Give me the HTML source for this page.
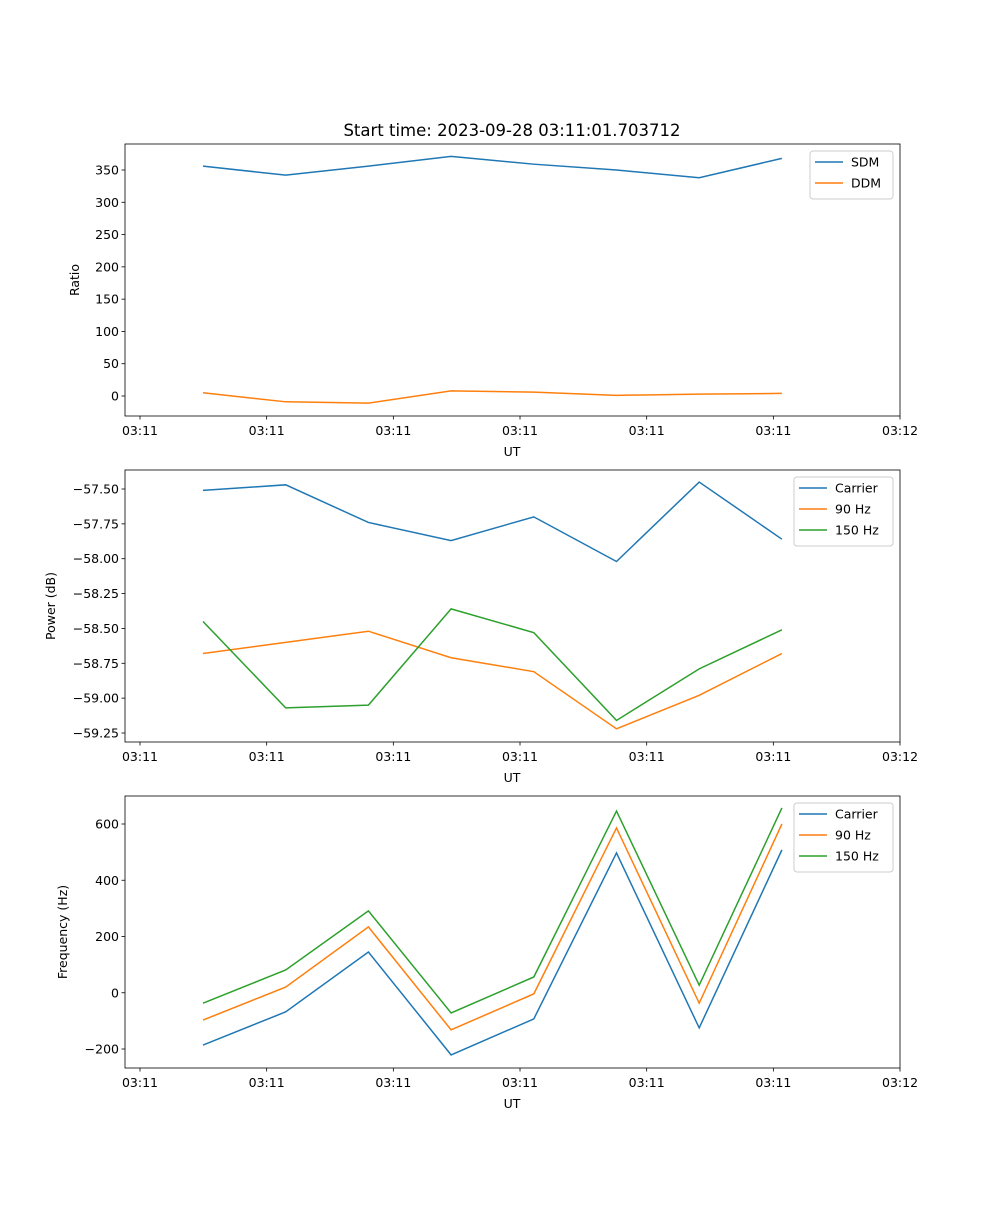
<!DOCTYPE html>
<html><head><meta charset="utf-8"><style>
body{margin:0;background:#fff}
svg text{font-family:"DejaVu Sans","Liberation Sans",sans-serif;fill:#000}
</style></head><body>
<svg id="fig" width="1000" height="1200" xmlns="http://www.w3.org/2000/svg"></svg>
<script>
const xTickLabels=["03:11","03:11","03:11","03:11","03:11","03:11","03:12"];
const sdm=[356,342,356,371,359,350,338,368];
const ddm=[5,-9,-11,8,6,1,3,4];
const pwrCarrier=[-57.51,-57.47,-57.74,-57.87,-57.70,-58.02,-57.45,-57.86];
const pwr90=[-58.68,-58.60,-58.52,-58.71,-58.81,-59.22,-58.98,-58.68];
const pwr150=[-58.45,-59.07,-59.05,-58.36,-58.53,-59.16,-58.79,-58.51];
const frqCarrier=[-186,-68,145,-221,-93,497,-125,508];
const frq90=[-97,20,234,-132,-4,586,-37,600];
const frq150=[-37,81,291,-72,56,646,27,657];
const ratioTicks=[0,50,100,150,200,250,300,350];
const powerTicks=[-57.5,-57.75,-58,-58.25,-58.5,-58.75,-59,-59.25];
const freqTicks=[600,400,200,0,-200];

const NS="http://www.w3.org/2000/svg";
const svg=document.getElementById('fig');
function el(tag,attrs,parent,text){const e=document.createElementNS(NS,tag);for(const k in attrs)e.setAttribute(k,attrs[k]);if(text!==undefined)e.textContent=text;(parent||svg).appendChild(e);return e;}
const L=125,R=900,FS=12.5;
const xs=i=>203+i*82.7;
const xTickPos=i=>140+i*126.67;
const C=['#1f77b4','#ff7f0e','#2ca02c'];

function panel(name,top,bottom,yv0,yp0,yv1,yp1,ticks,fmt,ylabel,ylx,series,labels,legW,legX){
  const g=el('g',{},svg);
  
  
  const ys=v=>yp0+(v-yv0)*(yp1-yp0)/(yv1-yv0);
  series.forEach((s,k)=>{
    const p=el('polyline',{points:s.map((v,i)=>xs(i)+','+ys(v)).join(' '),fill:'none',stroke:C[k],'stroke-width':1.5},g);
    
    
  });
  el('rect',{x:L,y:top,width:R-L,height:bottom-top,fill:'none',stroke:'#000','stroke-width':0.8},g);
  ticks.forEach(t=>{const y=ys(t);
    el('line',{x1:L-3.5,x2:L,y1:y,y2:y,stroke:'#000','stroke-width':0.8},g);
    const tx=el('text',{x:L-6,y:y+4.5,'text-anchor':'end','font-size':FS},g,fmt(t));
    
    
  });
  xTickLabels.forEach((t,i)=>{const x=xTickPos(i);
    el('line',{x1:x,x2:x,y1:bottom,y2:bottom+3.5,stroke:'#000','stroke-width':0.8},g);
    const tx=el('text',{x:x,y:bottom+19,'text-anchor':'middle','font-size':FS},g,t);
    
    
  });
  const xl=el('text',{x:512,y:bottom+40,'text-anchor':'middle','font-size':FS},g,'UT');
  
  
  const yl=el('text',{x:0,y:0,'text-anchor':'middle','font-size':FS,transform:`translate(${ylx},${(top+bottom)/2}) rotate(-90)`},g,ylabel);
  
  
  const lg=el('g',{},g);
  
  
  el('rect',{x:legX,y:top+7,width:legW,height:6+labels.length*21,rx:3,fill:'#fff','fill-opacity':0.8,stroke:'#ccc'},lg);
  labels.forEach((l,k)=>{const y=top+18+k*21;
    el('line',{x1:legX+5,x2:legX+33,y1:y,y2:y,stroke:C[k],'stroke-width':1.5},lg);
    const tx=el('text',{x:legX+41,y:y+4.5,'font-size':FS},lg,l);
    
    
  });
}
const t=el('text',{x:512,y:136,'text-anchor':'middle','font-size':16.5},svg,'Start time: 2023-09-28 03:11:01.703712');


panel('ratio-panel',144,416,0,396,350,170,ratioTicks,v=>String(v),'Ratio',79,[sdm,ddm],['SDM','DDM'],83,810);
panel('power-panel',470,742,-57.5,489,-59.25,733,powerTicks,v=>'\u2212'+Math.abs(v).toFixed(2),'Power (dB)',55,[pwrCarrier,pwr90,pwr150],['Carrier','90 Hz','150 Hz'],99,794);
panel('frequency-panel',796,1068,600,824,-200,1049,freqTicks,v=>v<0?'\u2212'+Math.abs(v):String(v),'Frequency (Hz)',67,[frqCarrier,frq90,frq150],['Carrier','90 Hz','150 Hz'],99,794);
</script>
</body></html>
